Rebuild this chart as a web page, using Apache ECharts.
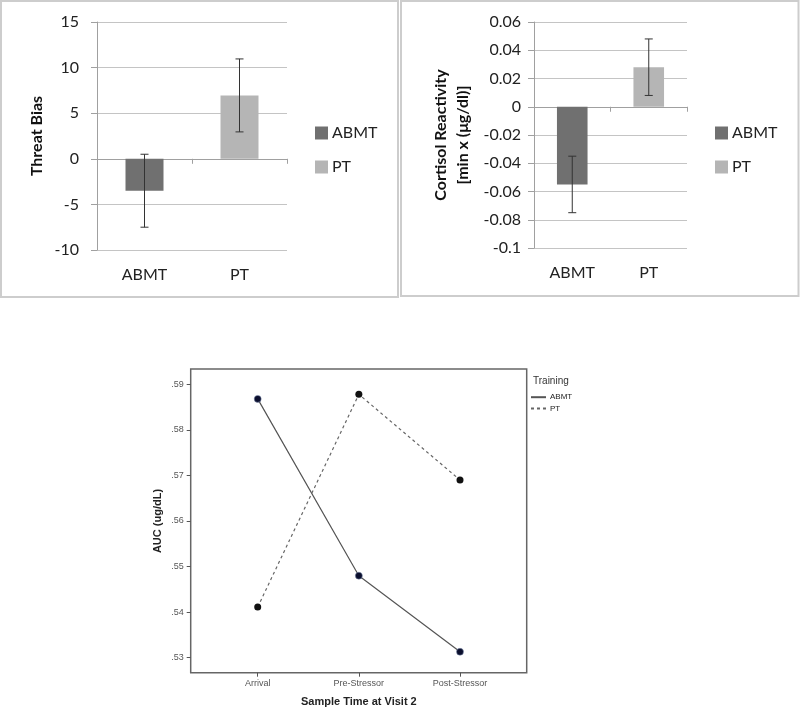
<!DOCTYPE html>
<html><head><meta charset="utf-8">
<script src="https://cdn.jsdelivr.net/npm/echarts@6/dist/echarts.min.js"></script>
<style>html,body{margin:0;padding:0;background:#fff}#c{width:800px;height:711px}</style>
</head><body><div id="c"></div>
<script>
// ---- data ----
const groups = ['ABMT', 'PT'];
const threatMeans = [-3.5, 6.95];
const threatErrors = [4, 4];
const cortisolMeans = [-0.055, 0.028];
const cortisolErrors = [0.02, 0.02];
const sampleTimes = ['Arrival', 'Pre-Stressor', 'Post-Stressor'];
const aucABMT = [0.5868, 0.5480, 0.5313];
const aucPT = [0.5411, 0.5878, 0.5690];
const threatAxis = { min: -10, max: 15, interval: 5 };
const cortisolAxis = { min: -0.1, max: 0.06, interval: 0.02 };
const aucAxis = { min: 0.53, max: 0.59, interval: 0.01 };

const colABMT = '#707070', colPT = '#b5b5b5';
const topFont = 'Lato, Liberation Sans, Arial, sans-serif';
const botFont = 'Liberation Sans, Arial, sans-serif';

function errorSeries(xi, yi, means, errs) {
  return {
    type: 'custom', xAxisIndex: xi, yAxisIndex: yi, silent: true, z: 5,
    data: means.map((m, i) => [i, m - errs[i], m + errs[i]]),
    renderItem(params, api) {
      const lo = api.coord([api.value(0), api.value(1)]);
      const hi = api.coord([api.value(0), api.value(2)]);
      const w = 4, st = { stroke: '#333', lineWidth: 1 };
      return { type: 'group', children: [
        { type: 'line', shape: { x1: lo[0], y1: lo[1], x2: hi[0], y2: hi[1] }, style: st },
        { type: 'line', shape: { x1: lo[0] - w, y1: lo[1], x2: lo[0] + w, y2: lo[1] }, style: st },
        { type: 'line', shape: { x1: hi[0] - w, y1: hi[1], x2: hi[0] + w, y2: hi[1] }, style: st }
      ] };
    }
  };
}
function barSeries(name, xi, yi, means, idx, color) {
  return {
    type: 'bar', name, xAxisIndex: xi, yAxisIndex: yi, barWidth: '40%', barGap: '-100%',
    itemStyle: { color }, silent: true,
    data: means.map((v, i) => (i === idx ? v : '-'))
  };
}
function zeroX(gi) {
  return { type: 'category', gridIndex: gi, data: groups, position: 'bottom',
    axisLine: { onZero: true, lineStyle: { color: '#a0a0a0', width: 1 } },
    axisTick: { show: true, length: 5, lineStyle: { color: '#a0a0a0' } },
    axisLabel: { show: false }, splitLine: { show: false } };
}
function labelX(gi) {
  return { type: 'category', gridIndex: gi, data: groups, position: 'bottom',
    axisLine: { show: false, onZero: false }, axisTick: { show: false },
    axisLabel: { fontSize: 16, color: '#222', margin: 17, fontFamily: topFont } };
}
function valY(gi, ax, name, gap, margin, lh) {
  return { type: 'value', gridIndex: gi, min: ax.min, max: ax.max, interval: ax.interval,
    axisLine: { show: true, lineStyle: { color: '#a0a0a0' } },
    axisTick: { show: true, length: 6, lineStyle: { color: '#a0a0a0' } },
    splitLine: { lineStyle: { color: '#c4c4c4', width: 1 } },
    axisLabel: { fontSize: 16, color: '#222', margin, fontFamily: topFont },
    name, nameLocation: 'middle', nameGap: gap,
    nameTextStyle: { fontSize: 16, fontWeight: 'bold', color: '#111', fontFamily: topFont, lineHeight: lh } };
}
function topLegend(left) {
  return { data: groups, orient: 'vertical', left, top: 125, padding: 0, icon: 'rect',
    itemWidth: 13, itemHeight: 13, itemGap: 18,
    textStyle: { fontSize: 16, color: '#222', fontFamily: topFont, padding: [0, 0, 0, -1] }, selectedMode: false };
}

const chart = echarts.init(document.getElementById('c'), null, { renderer: 'canvas' });
chart.setOption({
  animation: false,
  backgroundColor: '#fff',
  graphic: [
    { type: 'rect', shape: { x: 1, y: 1, width: 397, height: 296 }, style: { fill: 'none', stroke: '#cdcdcd', lineWidth: 2 } },
    { type: 'rect', shape: { x: 401, y: 1, width: 397.5, height: 295 }, style: { fill: 'none', stroke: '#cdcdcd', lineWidth: 2 } }
  ],
  title: { text: 'Training', left: 528, top: 371, textStyle: { fontSize: 10, fontWeight: 'normal', color: '#333', fontFamily: botFont } },
  grid: [
    { left: 97, right: 513, top: 22, bottom: 461 },
    { left: 534, right: 113, top: 22, bottom: 463 },
    { left: 257.7, right: 340, top: 384.3, bottom: 53.3 },
    { left: 190.7, right: 273.3, top: 369, bottom: 38.3, show: true, borderColor: '#666', borderWidth: 1.5, backgroundColor: 'transparent' }
  ],
  xAxis: [
    zeroX(0), labelX(0), zeroX(1), labelX(1),
    { type: 'category', gridIndex: 2, data: sampleTimes, boundaryGap: false, offset: 15,
      axisLine: { show: false }, axisTick: { show: true, length: 4, lineStyle: { color: '#555' } },
      axisLabel: { fontSize: 9, color: '#555', margin: 6, fontFamily: botFont },
      name: 'Sample Time at Visit 2', nameLocation: 'middle', nameGap: 24,
      nameTextStyle: { fontSize: 11, fontWeight: 'bold', color: '#222', fontFamily: botFont } },
    { type: 'value', gridIndex: 3, show: false }
  ],
  yAxis: [
    valY(0, threatAxis, 'Threat Bias', 50, 18, 20),
    valY(1, cortisolAxis, 'Cortisol Reactivity\n[min x (μg/dl)]', 60, 13, 22),
    { type: 'value', gridIndex: 2, min: aucAxis.min, max: aucAxis.max, interval: aucAxis.interval, offset: 67,
      axisLine: { show: false }, axisTick: { show: true, length: 4, lineStyle: { color: '#555' } },
      splitLine: { show: false },
      axisLabel: { fontSize: 9, color: '#555', margin: 7, fontFamily: botFont,
        formatter: v => v.toFixed(2).replace(/^0/, '') },
      name: 'AUC (ug/dL)', nameLocation: 'middle', nameGap: 27,
      nameTextStyle: { fontSize: 11, fontWeight: 'bold', color: '#222', fontFamily: botFont } },
    { type: 'value', gridIndex: 3, show: false }
  ],
  legend: [
    topLegend(315),
    topLegend(715),
    { data: ['ABMT line', 'PT line'], orient: 'vertical', left: 530, top: 393, padding: 0, itemWidth: 15, itemHeight: 8, itemGap: 3,
      formatter: n => n.replace(' line', ''), itemStyle: { opacity: 0 },
      textStyle: { fontSize: 8, color: '#222', fontFamily: botFont, padding: [0, 0, 0, -1] }, selectedMode: false }
  ],
  series: [
    barSeries('ABMT', 0, 0, threatMeans, 0, colABMT),
    barSeries('PT', 0, 0, threatMeans, 1, colPT),
    errorSeries(0, 0, threatMeans, threatErrors),
    barSeries('ABMT', 2, 1, cortisolMeans, 0, colABMT),
    barSeries('PT', 2, 1, cortisolMeans, 1, colPT),
    errorSeries(2, 1, cortisolMeans, cortisolErrors),
    { type: 'line', name: 'ABMT line', xAxisIndex: 4, yAxisIndex: 2, data: aucABMT,
      symbol: 'circle', symbolSize: 7, silent: true,
      itemStyle: { color: '#0b0f2e', borderColor: '#8090b0', borderWidth: 0.5 },
      lineStyle: { color: '#555', width: 1.2, type: 'solid' } },
    { type: 'line', name: 'PT line', xAxisIndex: 4, yAxisIndex: 2, data: aucPT,
      symbol: 'circle', symbolSize: 7, silent: true,
      itemStyle: { color: '#111' },
      lineStyle: { color: '#666', width: 1.2, type: [3, 3] } }
  ]
});
</script></body></html>
